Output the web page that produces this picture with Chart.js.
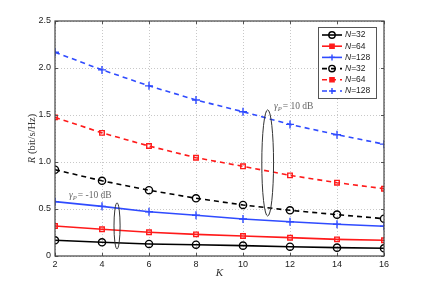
<!DOCTYPE html>
<html>
<head>
<meta charset="utf-8">
<script src="https://cdn.jsdelivr.net/npm/chart.js@4.4.0/dist/chart.umd.min.js"></script>
<style>
  html, body { margin: 0; padding: 0; background: #fff; }
  #wrap { width: 424px; height: 289px; }
</style>
</head>
<body>
<div id="wrap"><canvas id="rateChart" width="424" height="289"></canvas></div>
<script>
// number of users K
const kValues = [2, 4, 6, 8, 10, 12, 14, 16];

// gamma_P = -10 dB (solid)
const rLowN32 = [0.167, 0.146, 0.128, 0.120, 0.110, 0.099, 0.089, 0.082];
const rLowN64 = [0.319, 0.284, 0.252, 0.230, 0.213, 0.195, 0.177, 0.167];
const rLowN128 = [0.578, 0.528, 0.470, 0.433, 0.394, 0.365, 0.337, 0.316];

// gamma_P = 10 dB (dashed)
const rHighN32 = [0.918, 0.800, 0.700, 0.614, 0.543, 0.486, 0.440, 0.397];
const rHighN64 = [1.475, 1.310, 1.170, 1.046, 0.954, 0.858, 0.780, 0.716];
const rHighN128 = [2.167, 1.980, 1.810, 1.660, 1.535, 1.400, 1.290, 1.190];

const seriesNames = ['N=32', 'N=64', 'N=128', 'N=32', 'N=64', 'N=128'];

const BLACK = '#000000';
const RED = '#ff1a1a';
const BLUE = '#2f4bff';

function makeSet(name, values, color, style, dashed) {
  return {
    label: name,
    data: kValues.map((k, i) => ({ x: k, y: values[i] })),
    borderColor: color,
    backgroundColor: color,
    borderWidth: 1.6,
    borderDash: dashed ? [5, 4] : [],
    pointStyle: style,
    pointRadius: style === 'circle' ? 3.6 : (style === 'rect' ? 3.2 : 4),
    pointBorderWidth: 1.4,
    pointBackgroundColor: 'rgba(0,0,0,0)',
    pointBorderColor: color,
    tension: 0
  };
}

const datasets = [
  makeSet(seriesNames[0], rLowN32, BLACK, 'circle', false),
  makeSet(seriesNames[1], rLowN64, RED, 'rect', false),
  makeSet(seriesNames[2], rLowN128, BLUE, 'cross', false),
  makeSet(seriesNames[3], rHighN32, BLACK, 'circle', true),
  makeSet(seriesNames[4], rHighN64, RED, 'rect', true),
  makeSet(seriesNames[5], rHighN128, BLUE, 'cross', true)
];

// frame, inward tick marks, axis titles, legend and annotations
const decorPlugin = {
  id: 'decor',
  afterDraw(chart) {
    const ctx = chart.ctx;
    const a = chart.chartArea;
    const xs = chart.scales.x, ys = chart.scales.y;
    ctx.save();

    // inward ticks
    ctx.strokeStyle = '#555';
    ctx.lineWidth = 1;
    ctx.setLineDash([]);
    xs.ticks.forEach(t => {
      const px = Math.round(xs.getPixelForValue(t.value)) + 0.5;
      ctx.beginPath();
      ctx.moveTo(px, a.bottom); ctx.lineTo(px, a.bottom - 3);
      ctx.moveTo(px, a.top); ctx.lineTo(px, a.top + 3);
      ctx.stroke();
    });
    ys.ticks.forEach(t => {
      const py = Math.round(ys.getPixelForValue(t.value)) + 0.5;
      ctx.beginPath();
      ctx.moveTo(a.left, py); ctx.lineTo(a.left + 3, py);
      ctx.moveTo(a.right, py); ctx.lineTo(a.right - 3, py);
      ctx.stroke();
    });

    // box
    ctx.strokeStyle = '#444';
    ctx.lineWidth = 1.2;
    ctx.strokeRect(a.left, a.top, a.right - a.left, a.bottom - a.top);

    // axis titles
    ctx.fillStyle = '#333';
    ctx.textBaseline = 'middle';
    ctx.font = 'italic 11px "Liberation Serif"';
    ctx.textAlign = 'center';
    ctx.fillText('K', (a.left + a.right) / 2, 273);

    ctx.save();
    ctx.translate(32, (a.top + a.bottom) / 2);
    ctx.rotate(-Math.PI / 2);
    ctx.textAlign = 'left';
    ctx.font = 'italic 10.5px "Liberation Serif"';
    const rW = ctx.measureText('R').width;
    ctx.font = '10.5px "Liberation Serif"';
    const restW = ctx.measureText(' (bit/s/Hz)').width;
    let sx = -(rW + restW) / 2;
    ctx.font = 'italic 10.5px "Liberation Serif"';
    ctx.fillText('R', sx, 0);
    ctx.font = '10.5px "Liberation Serif"';
    ctx.fillText(' (bit/s/Hz)', sx + rW, 0);
    ctx.restore();

    // ellipses
    ctx.strokeStyle = '#333';
    ctx.lineWidth = 1;
    function ellipse(kc, rc, kr, rr) {
      const cx = xs.getPixelForValue(kc), cy = ys.getPixelForValue(rc);
      const rx = xs.getPixelForValue(kc + kr) - cx;
      const ry = cy - ys.getPixelForValue(rc + rr);
      ctx.beginPath();
      ctx.ellipse(cx, cy, rx, ry, 0, 0, Math.PI * 2);
      ctx.stroke();
    }
    ellipse(11.05, 0.99, 0.25, 0.565);
    ellipse(4.64, 0.32, 0.13, 0.245);

    // gamma labels
    function gammaText(k, r, txt) {
      let px = xs.getPixelForValue(k), py = ys.getPixelForValue(r);
      ctx.fillStyle = '#666';
      ctx.textAlign = 'left';
      ctx.textBaseline = 'alphabetic';
      ctx.font = 'italic 9.5px "Liberation Serif"';
      ctx.fillText('\u03B3', px, py);
      px += ctx.measureText('\u03B3').width;
      ctx.font = 'italic 6.5px "Liberation Serif"';
      ctx.fillText('P', px, py + 2);
      px += ctx.measureText('P').width + 1;
      ctx.font = '9.5px "Liberation Serif"';
      ctx.fillText(txt, px, py);
    }
    gammaText(11.32, 1.56, '= 10 dB');
    gammaText(2.6, 0.62, '= -10 dB');

    // legend
    const lx = 318, ly = 27, lw = 58, lh = 71;
    ctx.fillStyle = '#fff';
    ctx.fillRect(lx, ly, lw, lh);
    ctx.strokeStyle = '#555';
    ctx.lineWidth = 1;
    ctx.setLineDash([]);
    ctx.strokeRect(lx + 0.5, ly + 0.5, lw, lh);
    chart.data.datasets.forEach((ds, i) => {
      const y = ly + 8 + i * 11.2;
      ctx.strokeStyle = ds.borderColor;
      ctx.lineWidth = 1.6;
      ctx.setLineDash(ds.borderDash);
      ctx.beginPath();
      ctx.moveTo(lx + 4, y); ctx.lineTo(lx + 24, y);
      ctx.stroke();
      ctx.setLineDash([]);
      ctx.lineWidth = 1.4;
      ctx.fillStyle = ds.pointStyle === 'rect' ? ds.borderColor : 'rgba(0,0,0,0)';
      Chart.helpers.drawPoint(ctx, {
        pointStyle: ds.pointStyle,
        radius: ds.pointStyle === 'circle' ? 3.2 : 3,
        borderWidth: 1.4,
        rotation: 0
      }, lx + 14, y);
      ctx.fillStyle = '#222';
      ctx.textBaseline = 'middle';
      ctx.textAlign = 'left';
      ctx.font = 'italic 8.5px "Liberation Sans"';
      ctx.fillText('N', lx + 27, y);
      const nw = ctx.measureText('N').width;
      ctx.font = '8.5px "Liberation Sans"';
      ctx.fillText(ds.label.slice(1), lx + 27 + nw, y);
    });

    ctx.restore();
  }
};

new Chart(document.getElementById('rateChart'), {
  type: 'line',
  data: { datasets: datasets },
  options: {
    responsive: false,
    animation: false,
    layout: { padding: { left: 0, top: 21, right: 40, bottom: 0 } },
    plugins: {
      legend: { display: false },
      tooltip: { enabled: false }
    },
    scales: {
      x: {
        type: 'linear',
        min: 2,
        max: 16,
        ticks: { stepSize: 2, color: '#222', padding: 3, font: { family: 'Liberation Sans', size: 9 } },
        grid: { color: '#c8c8c8', lineWidth: 1, drawTicks: false },
        border: { display: false, dash: [1, 2] },
        afterFit: s => { s.height = 33; }
      },
      y: {
        type: 'linear',
        min: 0,
        max: 2.5,
        ticks: { stepSize: 0.5, color: '#222', padding: 4, font: { family: 'Liberation Sans', size: 9 } },
        grid: { color: '#c8c8c8', lineWidth: 1, drawTicks: false },
        border: { display: false, dash: [1, 2] },
        afterFit: s => { s.width = 55; }
      }
    }
  },
  plugins: [decorPlugin]
});
</script>
</body>
</html>
